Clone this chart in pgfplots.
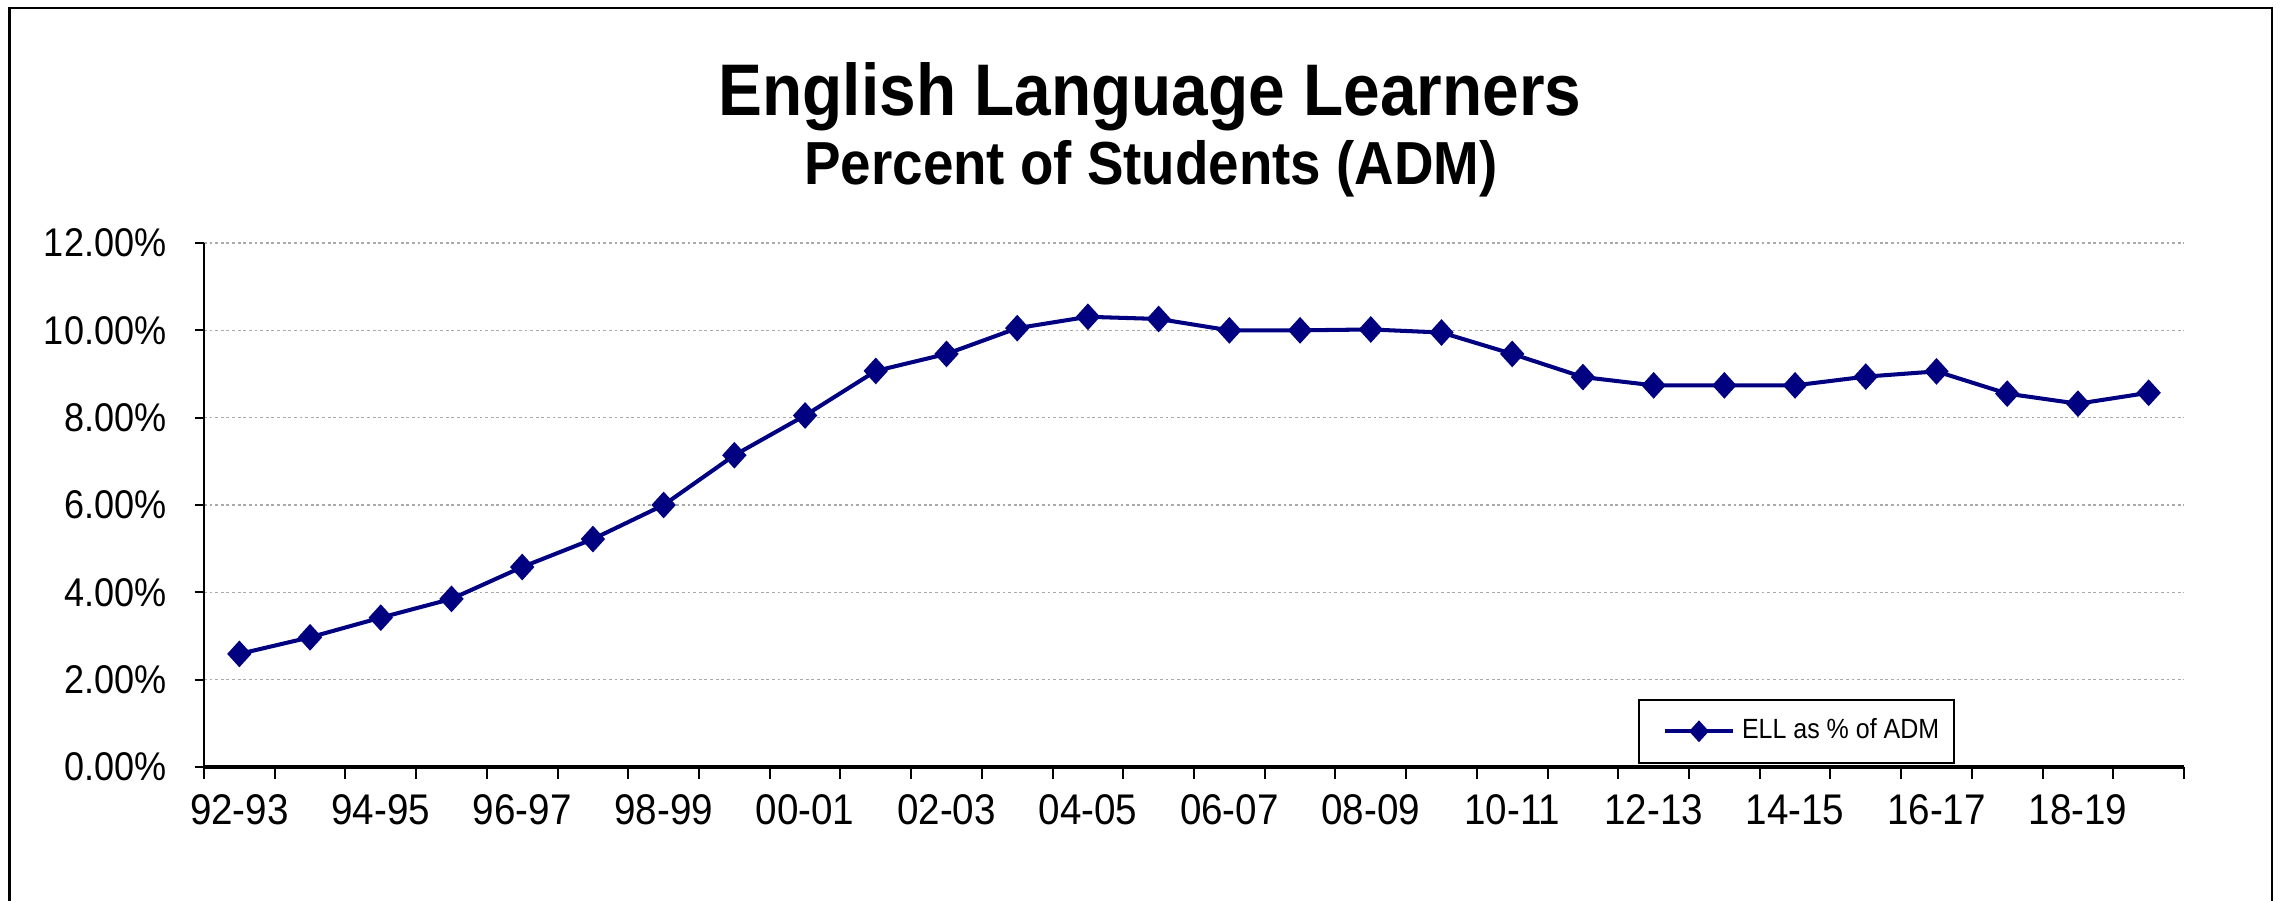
\documentclass[border=0pt]{standalone}
\usepackage{fontspec}
\setmainfont{Liberation Sans}[FakeStretch=0.9]
\usepackage{pgfplots}
\pgfplotsset{compat=1.18}
\definecolor{ellnavy}{RGB}{0,0,128}
\definecolor{gridgray}{RGB}{170,170,170}
\begin{document}
\begin{tikzpicture}
\useasboundingbox (0,0) rectangle (22.8cm,9cm);
\begin{scope}
\clip (0,0) rectangle (22.8cm,9cm);
\draw[line width=0.7pt] (0.095cm,-1cm) rectangle (22.72cm,8.92cm);
\end{scope}
\node[anchor=base, inner sep=0pt] at (11.5cm,7.84cm) {\fontsize{20.8}{24}\selectfont\bfseries English Language Learners};
\node[anchor=base, inner sep=0pt] at (11.51cm,7.15cm) {\fontsize{17.3}{20}\selectfont\bfseries Percent of Students (ADM)};
\begin{axis}[
  at={(2.04cm,1.33cm)}, anchor=south west,
  scale only axis, width=19.8cm, height=5.24cm,
  xmin=-0.5, xmax=27.5, ymin=0, ymax=12,
  axis x line*=bottom, axis y line*=left,
  x axis line style={-, black, line width=0.9pt},
  y axis line style={-, black, line width=0.6pt},
  tick align=outside,
  major tick length=0.09cm, minor tick length=0.12cm,
  tick style={black, line width=0.6pt},
  major x tick style={draw=none},
  xtick={0,2,...,26},
  xticklabels={92-93,94-95,96-97,98-99,00-01,02-03,04-05,06-07,08-09,10-11,12-13,14-15,16-17,18-19},
  minor xtick={-0.5,0.5,...,27.5},
  xticklabel style={anchor=north, inner sep=0pt, yshift=-0.18cm, font=\fontsize{12.2}{14}\selectfont},
  ytick={0,2,...,12},
  yticklabels={0.00\%,2.00\%,4.00\%,6.00\%,8.00\%,10.00\%,12.00\%},
  yticklabel style={anchor=east, inner sep=0pt, xshift=-0.28cm, font=\fontsize{11.4}{13}\selectfont},
  ymajorgrids,
  major grid style={gridgray, dash pattern=on 0.8pt off 0.8pt, line width=0.45pt},
  legend style={at={(0.7242,0.0057)}, anchor=south west, draw=black, line width=0.6pt, fill=white,
    font=\fontsize{7.9}{9}\selectfont, inner xsep=0.15cm, inner ysep=0.19cm,
    nodes={inner sep=0pt}, column sep=0.07cm},
  legend image code/.code={\path (0cm,0cm); \draw[mark repeat=2,mark phase=2,#1,mark size=1.45pt] plot coordinates {(0.09cm,0cm) (0.43cm,0cm) (0.77cm,0cm)};},
]
\addplot[color=ellnavy, line width=1.15pt, mark=square*, mark size=1.9pt,
  mark options={yscale=1.1, rotate=45, fill=ellnavy, draw=ellnavy, solid}] coordinates {
 (0,2.59) (1,2.97) (2,3.42) (3,3.85) (4,4.58) (5,5.22) (6,6.00) (7,7.14)
 (8,8.05) (9,9.07) (10,9.46) (11,10.05) (12,10.31) (13,10.26) (14,10.00)
 (15,10.00) (16,10.02) (17,9.95) (18,9.46) (19,8.93) (20,8.74) (21,8.74)
 (22,8.74) (23,8.94) (24,9.06) (25,8.55) (26,8.32) (27,8.57)
};
\addlegendentry{ELL as \% of ADM}
\end{axis}
\end{tikzpicture}
\end{document}
